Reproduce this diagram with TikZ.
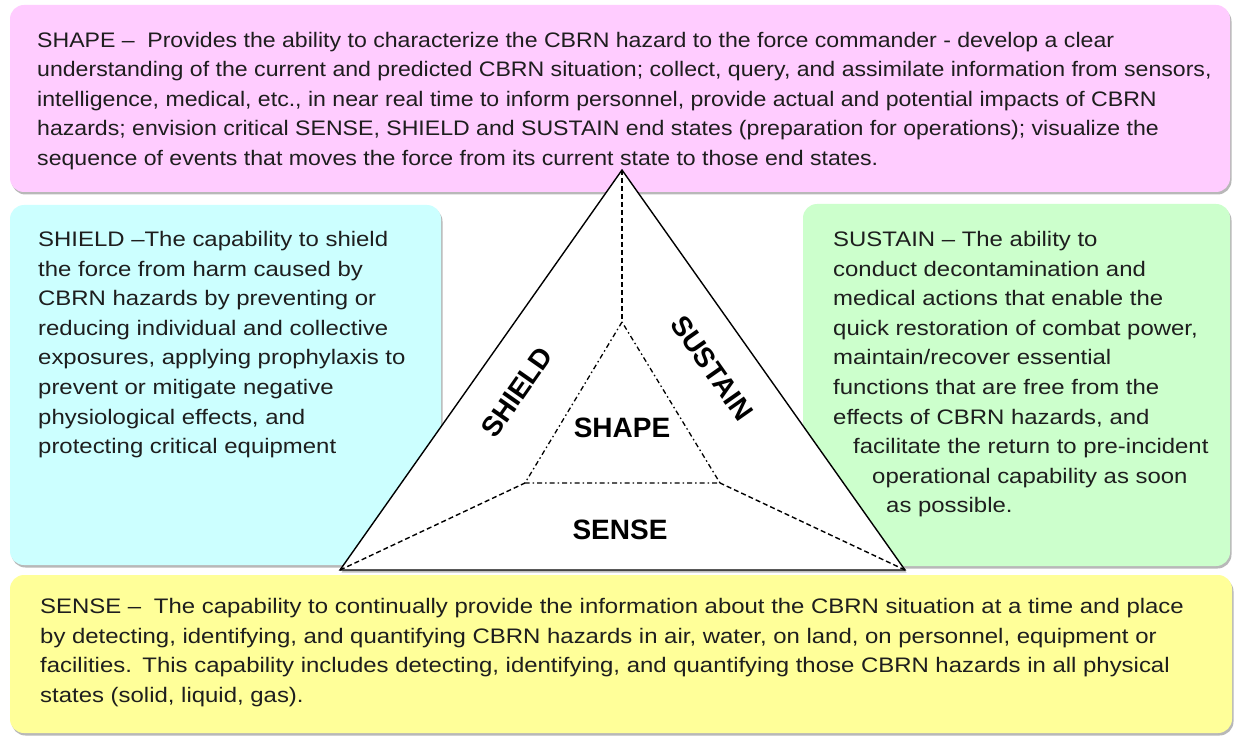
\documentclass[tikz,border=0pt]{standalone}
\usepackage{fontspec}
\setmainfont{Liberation Sans}
\newfontfamily\topsans[FakeStretch=1.10]{Liberation Sans}
\newfontfamily\widesans[FakeStretch=1.14]{Liberation Sans}
\usetikzlibrary{shadows}

\definecolor{shapefill}{RGB}{255,204,255}
\definecolor{shieldfill}{RGB}{204,255,255}
\definecolor{sustainfill}{RGB}{204,255,204}
\definecolor{sensefill}{RGB}{255,255,153}
\definecolor{inktext}{RGB}{30,30,30}

\begin{document}
\begin{tikzpicture}[x=1pt,y=-1pt,
  panel/.style={rounded corners=14pt,
    drop shadow={shadow xshift=1.5pt,shadow yshift=-2.5pt,fill=black!55}},
  body/.style={font=\widesans\fontsize{21}{29.6}\selectfont, align=left,
    anchor=north west, inner sep=0pt, text=inktext},
  topbody/.style={body, font=\topsans\fontsize{21}{29.6}\selectfont},
  tag/.style={font=\fontsize{28}{30}\selectfont\bfseries, inner sep=0pt, text=black},
  outline/.style={line width=1.4pt, line join=miter},
  spoke/.style={line width=1.4pt, dash pattern=on 5pt off 3pt},
  rim/.style={line width=1.3pt, dash pattern=on 5pt off 3pt on 1.5pt off 3pt}]

\useasboundingbox (0,0) rectangle (1237,738);
\fill[white] (0,0) rectangle (1237,738);

% coloured panels
\fill[panel, fill=shapefill]   (10,5)   rectangle (1230,192);
\fill[panel, fill=shieldfill]  (10,205) rectangle (441,565);
\fill[panel, fill=sustainfill] (803,204) rectangle (1230,566);
\fill[panel, fill=sensefill]   (10,575) rectangle (1232,733);

% panel texts
\node[topbody] (shapetext) at (37,31.7) {%
SHAPE –\hspace{0.6em}Provides the ability to characterize the CBRN hazard to the force commander - develop a clear\\
understanding of the current and predicted CBRN situation; collect, query, and assimilate information from sensors,\\
intelligence, medical, etc., in near real time to inform personnel, provide actual and potential impacts of CBRN\\
hazards; envision critical SENSE, SHIELD and SUSTAIN end states (preparation for operations); visualize the\\
sequence of events that moves the force from its current state to those end states.};

\node[body] (shieldtext) at (38,231) {%
SHIELD –The capability to shield\\
the force from harm caused by\\
CBRN hazards by preventing or\\
reducing individual and collective\\
exposures, applying prophylaxis to\\
prevent or mitigate negative\\
physiological effects, and\\
protecting critical equipment};

\node[body] (sustaintext) at (833,231) {%
SUSTAIN – The ability to\\
conduct decontamination and\\
medical actions that enable the\\
quick restoration of combat power,\\
maintain/recover essential\\
functions that are free from the\\
effects of CBRN hazards, and\\
\hspace*{20pt}facilitate the return to pre-incident\\
\hspace*{39pt}operational capability as soon\\
\hspace*{53pt}as possible.};

\node[body] (sensetext) at (40,598) {%
SENSE –\hspace{0.6em}The capability to continually provide the information about the CBRN situation at a time and place\\
by detecting, identifying, and quantifying CBRN hazards in air, water, on land, on personnel, equipment or\\
facilities.\hspace{0.5em}This capability includes detecting, identifying, and quantifying those CBRN hazards in all physical\\
states (solid, liquid, gas).};

% triangle corners
\coordinate (apex) at (622,170);
\coordinate (bl)   at (340,570);
\coordinate (br)   at (905,570);
\coordinate (itop) at (622,322);
\coordinate (ileft) at (525,483);
\coordinate (iright) at (720,483);

\filldraw[outline, fill=white,
  drop shadow={shadow xshift=1.5pt,shadow yshift=-2.5pt,fill=black!50}]
  (apex) -- (bl) -- (br) -- cycle;

% spokes from outer to inner corners
\draw[spoke] (apex) -- (itop);
\draw[spoke] (bl) -- (ileft);
\draw[spoke] (br) -- (iright);

% inner triangle
\draw[rim] (itop) -- (ileft) -- (iright) -- cycle;

% segment labels
\node[tag, rotate=55]  (shieldtag)  at (517,392) {SHIELD};
\node[tag, rotate=-55] (sustaintag) at (712,368) {SUSTAIN};
\node[tag]             (shapetag)   at (622,428) {SHAPE};
\node[tag]             (sensetag)   at (620,530) {SENSE};

\end{tikzpicture}
\end{document}
